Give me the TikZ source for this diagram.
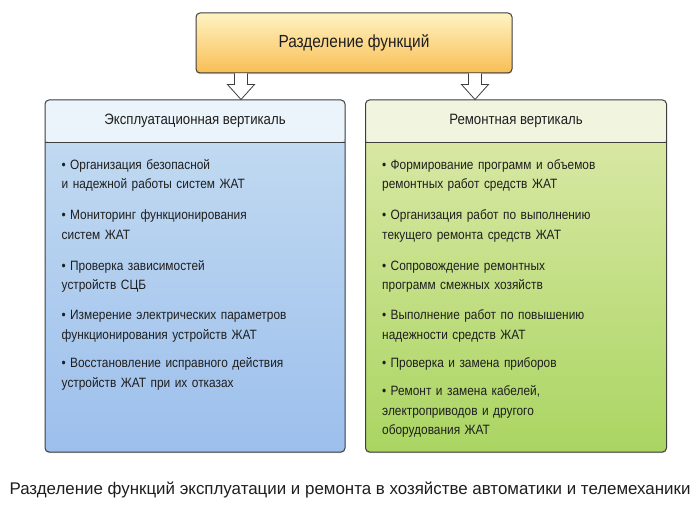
\documentclass[tikz,border=0pt]{standalone}
\usepackage{fontspec}
\setmainfont{Liberation Sans}[FakeStretch=0.88]
\newfontfamily\capfont{Liberation Sans}
\usetikzlibrary{positioning, shadows}

\definecolor{headtop}{RGB}{255,243,195}
\definecolor{headbot}{RGB}{248,190,84}
\definecolor{explhead}{RGB}{234,244,250}
\definecolor{expltop}{RGB}{198,221,242}
\definecolor{explbot}{RGB}{156,191,236}
\definecolor{remhead}{RGB}{241,245,224}
\definecolor{remtop}{RGB}{222,234,172}
\definecolor{rembot}{RGB}{170,213,98}
\definecolor{frame}{RGB}{62,62,62}
\definecolor{ink}{RGB}{30,30,30}

% bullet with hanging indent
\newcommand{\itm}{\noindent\hangindent=8.5pt\hangafter=1 \strut\makebox[8.5pt][l]{•}}

\begin{document}
\begin{tikzpicture}[x=1pt,y=-1pt,text=ink,
 box/.style={draw=frame,line width=1pt,rounded corners=4pt,inner sep=0pt,
   drop shadow={shadow xshift=0pt,shadow yshift=-1.2pt,opacity=.35}},
 hd/.style={minimum width=300pt,minimum height=42pt,inner sep=0pt,anchor=north,
   font=\fontsize{15}{18}\selectfont},
 item/.style={text width=275pt,inner sep=0pt,
   font=\fontsize{13.5}{19.5}\selectfont\raggedright},
 fat/.style={draw=frame,fill=white,line width=0.8pt,line join=miter}]
\useasboundingbox (0,0) rectangle (700,505);

\node[box,top color=headtop,bottom color=headbot,minimum width=316pt,
  minimum height=60pt,font=\fontsize{17.5}{20}\selectfont] (split) at (354,43) {Разделение функций};

% the two verticals
\node[box,top color=expltop,bottom color=explbot,minimum width=300pt,minimum height=352pt,
  path picture={\fill[explhead] (path picture bounding box.north west) rectangle
    ([yshift=-42pt]path picture bounding box.north east);}] (expl) at (195,276) {};
\node[box,top color=remtop,bottom color=rembot,minimum width=301pt,minimum height=352pt,
  path picture={\fill[remhead] (path picture bounding box.north west) rectangle
    ([yshift=-42pt]path picture bounding box.north east);}] (rem) at (516,276) {};
\node[hd] (explhd) at (expl.north) {Эксплуатационная вертикаль};
\node[hd] (remhd) at (rem.north) {Ремонтная вертикаль};
\draw[frame,line width=0.7pt] (explhd.south west) -- (explhd.south east)
  (remhd.south west) -- (remhd.south east);

% hollow arrows
\foreach \x/\v in {241/expl, 475/rem}{
  \coordinate (a\v) at (\x,0);
  \coordinate (top\v) at (split.south -| a\v);
  \coordinate (tip\v) at (a\v |- \v.north);
  \draw[fat] ([xshift=-6.5pt]top\v) -- ([xshift=-6.5pt,yshift=-11pt]top\v)
    -- ([xshift=-13.5pt,yshift=-11pt]top\v) -- (tip\v)
    -- ([xshift=13.5pt,yshift=-11pt]top\v) -- ([xshift=6.5pt,yshift=-11pt]top\v)
    -- ([xshift=6.5pt]top\v);
}

% left items
\node[item,anchor=north west] (l1) at ([xshift=17pt,yshift=-56pt]expl.north west)
  {\itm Организация безопасной\newline и надежной работы систем ЖАТ\strut};
\node[item,below=11pt of l1.south west,anchor=north west] (l2)
  {\itm Мониторинг функционирования\newline систем ЖАТ\strut};
\node[item,below=11pt of l2.south west,anchor=north west] (l3)
  {\itm Проверка зависимостей\newline устройств СЦБ\strut};
\node[item,below=10pt of l3.south west,anchor=north west] (l4)
  {\itm Измерение электрических параметров\newline функционирования устройств ЖАТ\strut};
\node[item,below=9pt of l4.south west,anchor=north west] (l5)
  {\itm Восстановление исправного действия\newline устройств ЖАТ при их отказах\strut};

% right items
\node[item,anchor=north west] (r1) at ([xshift=17pt,yshift=-56pt]rem.north west)
  {\itm Формирование программ и объемов\newline ремонтных работ средств ЖАТ\strut};
\node[item,below=11pt of r1.south west,anchor=north west] (r2)
  {\itm Организация работ по выполнению\newline текущего ремонта средств ЖАТ\strut};
\node[item,below=11pt of r2.south west,anchor=north west] (r3)
  {\itm Сопровождение ремонтных\newline программ смежных хозяйств\strut};
\node[item,below=10pt of r3.south west,anchor=north west] (r4)
  {\itm Выполнение работ по повышению\newline надежности средств ЖАТ\strut};
\node[item,below=9pt of r4.south west,anchor=north west] (r5)
  {\itm Проверка и замена приборов\strut};
\node[item,below=8pt of r5.south west,anchor=north west] (r6)
  {\itm Ремонт и замена кабелей,\newline электроприводов и другого\newline оборудования ЖАТ\strut};

\node[font=\capfont\fontsize{16.9}{19}\selectfont] (caption) at (350,490)
  {Разделение функций эксплуатации и ремонта в хозяйстве автоматики и телемеханики};
\end{tikzpicture}
\end{document}
